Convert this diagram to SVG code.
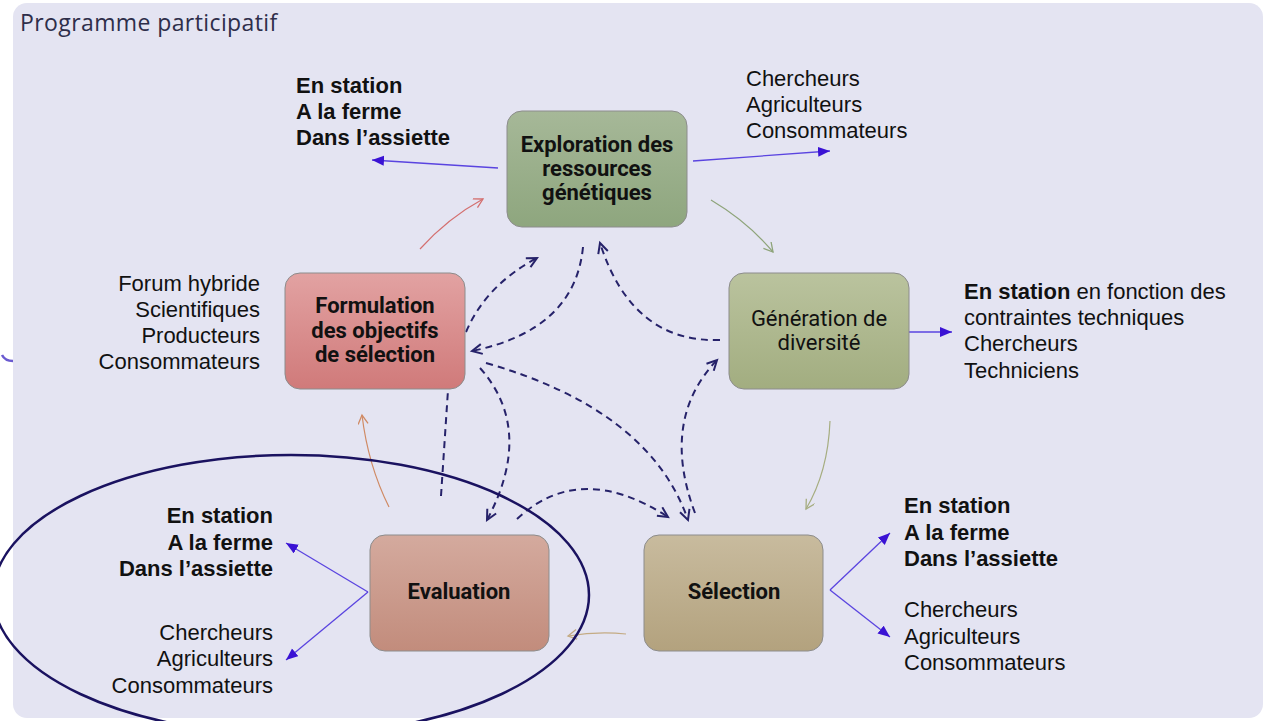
<svg xmlns="http://www.w3.org/2000/svg" width="1268" height="721" viewBox="0 0 1268 721">
  <defs>
    <style>
      .title { font-family: "Open Sans", "Noto Sans", sans-serif; font-size: 23px; letter-spacing: 0.4px; fill: #2e2e4a; }
      .lbl { font-family: "Liberation Sans", Arial, sans-serif; font-size: 22px; fill: #111; }
      .b { font-weight: bold; }
      .node-t { font-family: Roboto, "Liberation Sans", sans-serif; font-size: 22px; fill: #111; text-anchor: middle; }
      .box { stroke: #8c8c8c; stroke-width: 1; }
      .dash { fill: none; stroke: #26226a; stroke-width: 2; stroke-dasharray: 7 5; marker-end: url(#vNavy); }
      .blue { fill: none; stroke: #5a44e0; stroke-width: 1.3; marker-end: url(#triBlue); }
      .thin { fill: none; stroke-width: 1.2; }
    </style>
    <linearGradient id="gExp" x1="0" y1="0" x2="0" y2="1">
      <stop offset="0" stop-color="#a6b898"/>
      <stop offset="1" stop-color="#8ea67e"/>
    </linearGradient>
    <linearGradient id="gFor" x1="0" y1="0" x2="0" y2="1">
      <stop offset="0" stop-color="#e2a2a2"/>
      <stop offset="1" stop-color="#d07a7a"/>
    </linearGradient>
    <linearGradient id="gGen" x1="0" y1="0" x2="0" y2="1">
      <stop offset="0" stop-color="#bac39e"/>
      <stop offset="1" stop-color="#a2ad80"/>
    </linearGradient>
    <linearGradient id="gEva" x1="0" y1="0" x2="0" y2="1">
      <stop offset="0" stop-color="#d4aa9e"/>
      <stop offset="1" stop-color="#c28c7c"/>
    </linearGradient>
    <linearGradient id="gSel" x1="0" y1="0" x2="0" y2="1">
      <stop offset="0" stop-color="#c8bb9e"/>
      <stop offset="1" stop-color="#b3a27e"/>
    </linearGradient>
    <marker id="vNavy" markerUnits="userSpaceOnUse" markerWidth="16" markerHeight="16" refX="11" refY="6" orient="auto">
      <path d="M1,1 L11,6 L1,11" fill="none" stroke="#26226a" stroke-width="2"/>
    </marker>
    <marker id="triBlue" markerUnits="userSpaceOnUse" markerWidth="14" markerHeight="12" refX="12" refY="5" orient="auto">
      <path d="M0,0 L12,5 L0,10 Z" fill="#3a12d4"/>
    </marker>
    <marker id="vRed" markerUnits="userSpaceOnUse" markerWidth="14" markerHeight="14" refX="10" refY="5" orient="auto">
      <path d="M1,0 L10,5 L1,10" fill="none" stroke="#d46f6f" stroke-width="1.3"/>
    </marker>
    <marker id="vGreen" markerUnits="userSpaceOnUse" markerWidth="14" markerHeight="14" refX="10" refY="5" orient="auto">
      <path d="M1,0 L10,5 L1,10" fill="none" stroke="#8ea47a" stroke-width="1.3"/>
    </marker>
    <marker id="vOlive" markerUnits="userSpaceOnUse" markerWidth="14" markerHeight="14" refX="10" refY="5" orient="auto">
      <path d="M1,0 L10,5 L1,10" fill="none" stroke="#a6ad80" stroke-width="1.3"/>
    </marker>
    <marker id="vTan" markerUnits="userSpaceOnUse" markerWidth="14" markerHeight="14" refX="10" refY="5" orient="auto">
      <path d="M1,0 L10,5 L1,10" fill="none" stroke="#c4ab84" stroke-width="1.3"/>
    </marker>
    <marker id="vOrange" markerUnits="userSpaceOnUse" markerWidth="14" markerHeight="14" refX="10" refY="5" orient="auto">
      <path d="M1,0 L10,5 L1,10" fill="none" stroke="#d08a64" stroke-width="1.3"/>
    </marker>
  </defs>

  <!-- background panel -->
  <rect x="0" y="0" width="1268" height="721" fill="#ffffff"/>
  <rect x="13" y="3" width="1250" height="715" rx="14" fill="#e4e4f2"/>
  <path d="M2,355 Q5,361 13,361" fill="none" stroke="#6a5ad0" stroke-width="2.5"/>
  <text class="title" x="20" y="31">Programme participatif</text>

  <!-- connectors -->
  <g id="connectors">
    <!-- cycle arrows -->
    <path class="thin" stroke="#d46f6f" marker-end="url(#vRed)" d="M420,249 Q448,218 483,199"/>
    <path class="thin" stroke="#8ea47a" marker-end="url(#vGreen)" d="M711,200 Q748,222 773,252"/>
    <path class="thin" stroke="#a6ad80" marker-end="url(#vOlive)" d="M830,421 Q828,472 806,509"/>
    <path class="thin" stroke="#c4ab84" marker-end="url(#vTan)" d="M626,634 Q598,631 568,636"/>
    <path class="thin" stroke="#d08a64" marker-end="url(#vOrange)" d="M389,507 Q368,465 362,415"/>

    <!-- dashed exchanges -->
    <path class="dash" d="M466,332 Q486,285 537,258"/>
    <path class="dash" d="M583,247 Q575,330 472,351"/>
    <path class="dash" d="M720,340 Q632,343 600,243"/>
    <path class="dash" d="M486,363 Q650,410 688,520"/>
    <path class="dash" d="M480,368 Q535,430 487,520"/>
    <path class="dash" d="M441,496 L448,390" style="marker-end:none"/>
    <path class="dash" d="M517,519 Q580,460 668,517"/>
    <path class="dash" d="M695,513 Q660,420 717,360"/>

    <!-- actor / place arrows -->
    <path class="blue" d="M498,168 L372,160"/>
    <path class="blue" d="M693,161 L830,151"/>
    <path class="blue" d="M909,332 L952,332"/>
    <path class="blue" d="M368,592 L286,543"/>
    <path class="blue" d="M368,592 L286,660"/>
    <path class="blue" d="M830,590 L890,533"/>
    <path class="blue" d="M830,590 L890,637"/>
  </g>

  <!-- nodes -->
  <g id="exploration">
    <rect class="box" x="507" y="111" width="180" height="116" rx="15" fill="url(#gExp)"/>
    <text class="node-t b" x="597" y="152">Exploration des</text>
    <text class="node-t b" x="597" y="176">ressources</text>
    <text class="node-t b" x="597" y="200">génétiques</text>
  </g>
  <g id="formulation">
    <rect class="box" x="285" y="273" width="180" height="116" rx="15" fill="url(#gFor)"/>
    <text class="node-t b" x="375" y="313">Formulation</text>
    <text class="node-t b" x="375" y="338">des objectifs</text>
    <text class="node-t b" x="375" y="362">de sélection</text>
  </g>
  <g id="generation">
    <rect class="box" x="729" y="273" width="180" height="116" rx="15" fill="url(#gGen)"/>
    <text class="node-t" x="819" y="326">Génération de</text>
    <text class="node-t" x="819" y="350">diversité</text>
  </g>
  <g id="evaluation">
    <rect class="box" x="370" y="535" width="179" height="116" rx="15" fill="url(#gEva)"/>
    <text class="node-t b" x="459" y="599">Evaluation</text>
  </g>
  <g id="selection">
    <rect class="box" x="644" y="535" width="179" height="116" rx="15" fill="url(#gSel)"/>
    <text class="node-t b" x="734" y="599">Sélection</text>
  </g>

  <!-- labels -->
  <g id="label-exploration-lieux">
    <text class="lbl b" x="296" y="93">En station</text>
    <text class="lbl b" x="296" y="119">A la ferme</text>
    <text class="lbl b" x="296" y="145">Dans l’assiette</text>
  </g>
  <g id="label-exploration-acteurs">
    <text class="lbl" x="746" y="86">Chercheurs</text>
    <text class="lbl" x="746" y="112">Agriculteurs</text>
    <text class="lbl" x="746" y="138">Consommateurs</text>
  </g>
  <g id="label-formulation" text-anchor="end">
    <text class="lbl" x="260" y="291">Forum hybride</text>
    <text class="lbl" x="260" y="317">Scientifiques</text>
    <text class="lbl" x="260" y="343">Producteurs</text>
    <text class="lbl" x="260" y="369">Consommateurs</text>
  </g>
  <g id="label-generation">
    <text class="lbl" x="964" y="299"><tspan class="b">En station</tspan> en fonction des</text>
    <text class="lbl" x="964" y="325">contraintes techniques</text>
    <text class="lbl" x="964" y="351">Chercheurs</text>
    <text class="lbl" x="964" y="378">Techniciens</text>
  </g>
  <g id="label-evaluation" text-anchor="end">
    <text class="lbl b" x="273" y="523">En station</text>
    <text class="lbl b" x="273" y="550">A la ferme</text>
    <text class="lbl b" x="273" y="576">Dans l’assiette</text>
    <text class="lbl" x="273" y="640">Chercheurs</text>
    <text class="lbl" x="273" y="666">Agriculteurs</text>
    <text class="lbl" x="273" y="693">Consommateurs</text>
  </g>
  <g id="label-selection">
    <text class="lbl b" x="904" y="513">En station</text>
    <text class="lbl b" x="904" y="540">A la ferme</text>
    <text class="lbl b" x="904" y="566">Dans l’assiette</text>
    <text class="lbl" x="904" y="617">Chercheurs</text>
    <text class="lbl" x="904" y="644">Agriculteurs</text>
    <text class="lbl" x="904" y="670">Consommateurs</text>
  </g>

  <!-- evaluation focus -->
  <ellipse id="focus" cx="291" cy="595" rx="298" ry="140" fill="none" stroke="#1a1260" stroke-width="2.5"/>
</svg>
